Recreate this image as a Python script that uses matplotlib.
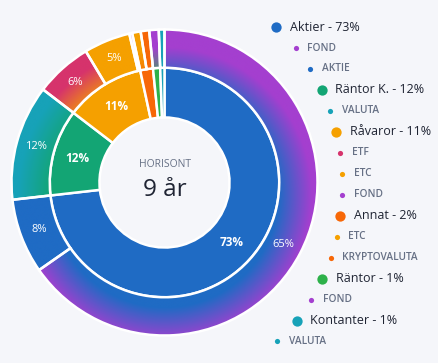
import numpy as np
import matplotlib.pyplot as plt
from matplotlib.colors import to_rgb

plt.rcParams['font.family'] = ['Open Sans', 'DejaVu Sans']

# inner ring: asset classes
categories = ["Aktier", "Räntor K.", "Råvaror", "Annat", "Räntor", "Kontanter"]
cat_colors = ["#1F6BC4", "#13A574", "#F5A000", "#F76707", "#2DB14A", "#17A2B8"]

# outer ring: instrument types inside each class (percent of portfolio)
sub_names = [["FOND", "AKTIE"], ["VALUTA"], ["ETF", "ETC", "FOND"],
             ["ETC", "KRYPTOVALUTA"], ["FOND"], ["VALUTA"]]
sub_values = [[65.3, 7.9], [12.2], [6.0, 4.9, 0.3], [0.9, 0.9], [1.0], [0.6]]
sub_colors = [["#A43FCF", "#1F6BC4"], ["#17A2B8"], ["#D6336C", "#F5A000", "#A43FCF"],
              ["#F5A000", "#F76707"], ["#A43FCF"], ["#17A2B8"]]

horizon_title = "HORISONT"
horizon_value = "9 år"

bg = "#F5F6FA"
dark = "#1F2433"
grey = "#667085"

cat_values = [sum(v) for v in sub_values]
total = sum(cat_values)

fig = plt.figure(figsize=(4.39, 3.63), dpi=100, facecolor=bg)
# pie centre at (164.5, 182.5) px, outer radius 153 px
ax = fig.add_axes([0.00877, 0.0547, 0.7319, 0.8851])
ax.set_facecolor(bg)

# --- inner ring ---
inner_wedges, _ = ax.pie(cat_values, radius=0.75, colors=cat_colors, startangle=90,
                         counterclock=False,
                         wedgeprops=dict(width=0.325, edgecolor="white", linewidth=1.8))

# --- outer ring ---
flat_vals = [v for grp in sub_values for v in grp]
flat_cols = [c for grp in sub_colors for c in grp]
parent_cols = [cat_colors[i] for i, grp in enumerate(sub_values) for _ in grp]
outer_wedges, _ = ax.pie(flat_vals, radius=1.0, colors=flat_cols, startangle=90,
                         counterclock=False,
                         wedgeprops=dict(width=0.25, edgecolor="white", linewidth=1.8))

# radial gradient: parent colour on the inside, own colour on the outside
n = 500
xs = np.linspace(-1.05, 1.05, n)
X, Y = np.meshgrid(xs, xs[::-1])
D = np.hypot(X - 0.0, Y + 0.08)
T = np.clip((D - 0.74) / 0.22, 0, 1)[..., None]
for w, child, parent in zip(outer_wedges, flat_cols, parent_cols):
    rgb = np.array(to_rgb(parent)) * (1 - T) + np.array(to_rgb(child)) * T
    im = ax.imshow(rgb, extent=(-1.05, 1.05, -1.05, 1.05), zorder=1.5,
                   interpolation="bilinear")
    im.set_clip_path(w)
    w.set_facecolor("none")
    w.set_zorder(2)

# percentage labels
def put_labels(wedges, values, r, **kw):
    for w, v in zip(wedges, values):
        pct = v / total * 100
        if pct < 4:
            continue
        ang = np.deg2rad((w.theta1 + w.theta2) / 2)
        ax.text(r * np.cos(ang), r * np.sin(ang), f"{pct:.0f}%", ha="center",
                va="center", color="white", zorder=4, **kw)

put_labels(inner_wedges, cat_values, 0.59, fontsize=8.5, fontweight="bold")
put_labels(outer_wedges, flat_vals, 0.875, fontsize=8)

# centre text
ax.text(0, 0.12, horizon_title, ha="center", va="center", fontsize=7.5, color=grey)
ax.text(0, -0.05, horizon_value, ha="center", va="center", fontsize=17.5, color=dark)

ax.set_xlim(-1.05, 1.05)
ax.set_ylim(-1.05, 1.05)
ax.set_aspect("equal")
ax.axis("off")

# --- legend laid out on an ellipse round the chart ---
cy, a, b = -0.016, 1.163, 1.324
y0, step = 1.016, 0.137
row = 0
for i, cat in enumerate(categories):
    entries = [(f"{cat} - {cat_values[i] / total * 100:.0f}%", cat_colors[i], True)]
    entries += [(nm, col, False) for nm, col in zip(sub_names[i], sub_colors[i])]
    for text, col, big in entries:
        y = y0 - step * row
        x = a * np.sqrt(max(0.0, 1 - ((y - cy) / b) ** 2))
        ax.scatter([x], [y], s=55 if big else 14, color=col, clip_on=False,
                   zorder=5, linewidths=0)
        if big:
            ax.text(x + 0.09, y, text, ha="left", va="center", fontsize=9,
                    color=dark, clip_on=False)
        else:
            ax.text(x + 0.075, y, text, ha="left", va="center", fontsize=7.3,
                    color=grey, fontweight="semibold", clip_on=False)
        row += 1

fig.savefig("out.png", dpi=100, facecolor=bg)
